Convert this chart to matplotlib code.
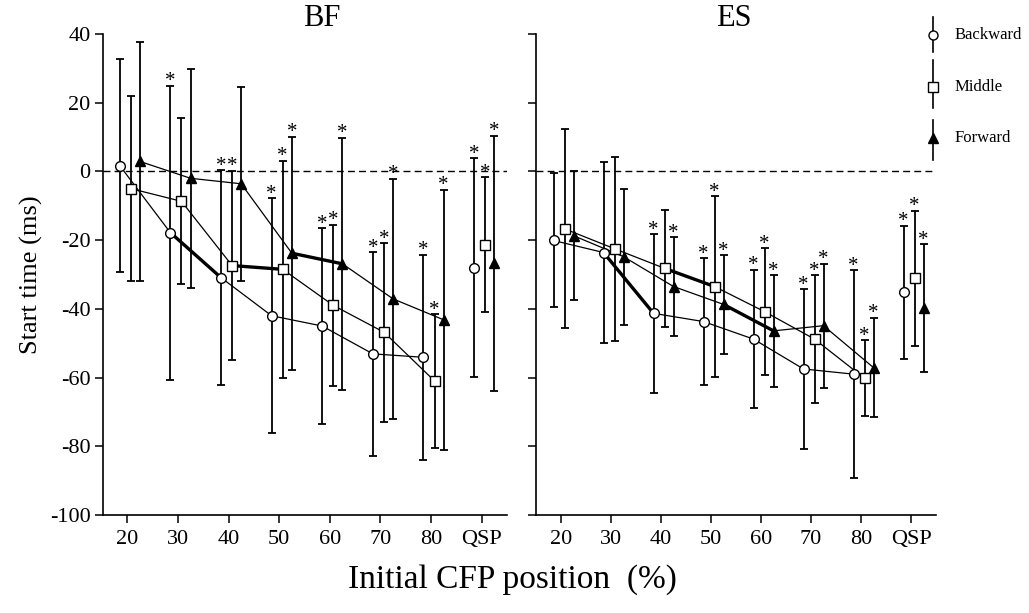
import matplotlib
matplotlib.use("Agg")
import matplotlib.pyplot as plt
import numpy as np
from matplotlib.lines import Line2D

plt.rcParams["font.family"] = ["Liberation Serif", "DejaVu Serif"]
plt.rcParams["axes.unicode_minus"] = False

positions = ["20", "30", "40", "50", "60", "70", "80", "QSP"]

# BF panel: mean and SD per position
bf_back_mean = [1.7, -17.8, -30.9, -42.0, -45.0, -53.1, -54.1, -28.0]
bf_back_sd = [31.0, 42.8, 31.3, 34.2, 28.5, 29.6, 29.9, 31.9]
bf_mid_mean = [-5.0, -8.7, -27.4, -28.5, -39.0, -46.8, -61.0, -21.3]
bf_mid_sd = [26.9, 24.2, 27.6, 31.6, 23.5, 26.0, 19.5, 19.6]
bf_fwd_mean = [2.9, -2.0, -3.6, -23.8, -26.9, -37.1, -43.2, -26.7]
bf_fwd_sd = [34.8, 31.9, 28.2, 33.9, 36.7, 35.0, 37.9, 37.1]
bf_back_star = [0, 1, 1, 1, 1, 1, 1, 1]
bf_mid_star = [0, 0, 1, 1, 1, 1, 1, 1]
bf_fwd_star = [0, 0, 0, 1, 1, 1, 1, 1]

# ES panel
es_back_mean = [-20.1, -23.6, -41.3, -43.7, -48.8, -57.5, -59.0, -35.2]
es_back_sd = [19.5, 26.3, 23.1, 18.4, 20.2, 23.2, 30.3, 19.4]
es_mid_mean = [-16.7, -22.5, -28.2, -33.5, -40.8, -48.8, -60.2, -31.1]
es_mid_sd = [29.0, 26.8, 17.1, 26.4, 18.4, 18.7, 11.0, 19.7]
es_fwd_mean = [-18.7, -24.8, -33.5, -38.7, -46.4, -44.9, -57.1, -39.8]
es_fwd_sd = [18.7, 19.8, 14.3, 14.4, 16.3, 18.1, 14.5, 18.6]
es_back_star = [0, 0, 1, 1, 1, 1, 1, 1]
es_mid_star = [0, 0, 0, 1, 1, 1, 1, 1]
es_fwd_star = [0, 0, 1, 1, 1, 1, 1, 1]

# segment drawn bold (index of its left end), same in both panels
back_bold = 1
mid_bold = 2
fwd_bold = 3

styles = {
    "Backward": dict(marker="o", mfc="white", ms=7, offset=-0.15),
    "Middle": dict(marker="s", mfc="white", ms=7, offset=0.07),
    "Forward": dict(marker="^", mfc="black", ms=7.5, offset=0.25),
}


def draw_series(ax, name, mean, sd, stars, bold):
    st = styles[name]
    x = np.arange(len(mean)) + st["offset"]
    mean = np.array(mean)
    sd = np.array(sd)
    ax.errorbar(x, mean, yerr=sd, fmt="none", ecolor="black", elinewidth=1.3,
                capsize=2.6, capthick=1.3, zorder=2)
    # connecting lines (not to QSP)
    ax.plot(x[:7], mean[:7], color="black", lw=0.9, zorder=3)
    ax.plot(x[bold:bold + 2], mean[bold:bold + 2], color="black", lw=2.4, zorder=3,
            solid_capstyle="round")
    ax.plot(x, mean, linestyle="none", marker=st["marker"], mfc=st["mfc"], mec="black",
            mew=1.0, ms=st["ms"], zorder=4)
    for xi, top, s in zip(x, mean + sd, stars):
        if s:
            ax.annotate("*", (xi, top), xytext=(0, -0.5), textcoords="offset points",
                        ha="center", va="baseline", fontsize=15)


fig = plt.figure(figsize=(10.29, 6.13), dpi=100)
ax1 = fig.add_axes([103 / 1029, 98 / 613, 404 / 1029, 481 / 613])
ax2 = fig.add_axes([536 / 1029, 98 / 613, 400 / 1029, 481 / 613])

panels = [
    (ax1, [(bf_back_mean, bf_back_sd, bf_back_star, back_bold),
           (bf_mid_mean, bf_mid_sd, bf_mid_star, mid_bold),
           (bf_fwd_mean, bf_fwd_sd, bf_fwd_star, fwd_bold)]),
    (ax2, [(es_back_mean, es_back_sd, es_back_star, back_bold),
           (es_mid_mean, es_mid_sd, es_mid_star, mid_bold),
           (es_fwd_mean, es_fwd_sd, es_fwd_star, fwd_bold)]),
]

for ax, series in panels:
    for name, (m, s, st, b) in zip(["Backward", "Middle", "Forward"], series):
        draw_series(ax, name, m, s, st, b)
    ax.axhline(0, color="black", lw=1.0, dashes=(5, 3), zorder=1)
    ax.set_xlim(-0.48, 7.5)
    ax.set_ylim(-100, 40)
    ax.set_yticks(np.arange(-100, 41, 20))
    ax.set_xticks(np.arange(len(positions)))
    ax.set_xticklabels(positions)
    for sp in ["top", "right"]:
        ax.spines[sp].set_visible(False)
    for sp in ["left", "bottom"]:
        ax.spines[sp].set_linewidth(1.2)
    ax.tick_params(direction="out", length=6, width=1.1, labelsize=16)
    ax.tick_params(axis="x", pad=5)
    ax.tick_params(axis="y", pad=3)

ax2.set_xlim(-0.5, 7.5)
ax2.tick_params(axis="y", labelleft=False)
ax1.set_ylabel("Start time (ms)", fontsize=19, labelpad=5)

fig.text(322 / 1029, 1 - 18 / 613, "BF", ha="center", va="center", fontsize=22)
fig.text(734 / 1029, 1 - 18 / 613, "ES", ha="center", va="center", fontsize=22)
fig.text(512 / 1029, 1 - 580 / 613, "Initial CFP position  (%)", ha="center",
         va="center", fontsize=24)

# legend drawn as little error-bar glyphs
legend_items = [("Backward", 17, 52, 35), ("Middle", 60, 108, 87), ("Forward", 120, 160, 138)]
lx = 933 / 1029
for name, ytop, ybot, ymid in legend_items:
    st = styles[name]
    fig.add_artist(Line2D([lx, lx], [1 - ytop / 613, 1 - ybot / 613], color="black",
                          lw=1.2, transform=fig.transFigure))
    fig.add_artist(Line2D([lx], [1 - ymid / 613], marker=st["marker"], mfc=st["mfc"],
                          mec="black", ms=st["ms"] - 0.5, linestyle="none",
                          transform=fig.transFigure))
    fig.text(955 / 1029, 1 - ymid / 613, name, ha="left", va="center", fontsize=12)

fig.savefig("out.png", dpi=100)
